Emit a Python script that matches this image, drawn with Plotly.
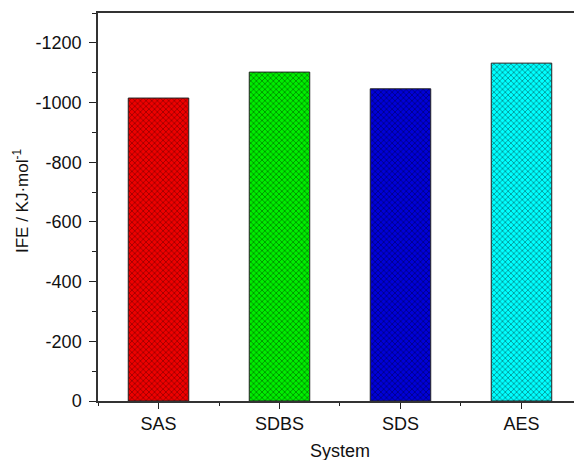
import plotly.graph_objects as go

categories = ["SAS", "SDBS", "SDS", "AES"]
ife_values = [-1015, -1102, -1046, -1132]
bar_colors = ["#EE0000", "#00EE00", "#0000D8", "#00FFFF"]
hatch_colors = ["#A00000", "#009000", "#000088", "#009A9A"]
ytick_vals = [0, -200, -400, -600, -800, -1000, -1200]
ytick_text = ["0", "-200", "-400", "-600", "-800", "-1000", "-1200"]
x_title = "System"
y_title = "IFE / KJ·mol<sup>-1</sup>"

xpos = list(range(len(categories)))

fig = go.Figure()
for i in xpos:
    fig.add_trace(go.Bar(
        x=[xpos[i]],
        y=[ife_values[i]],
        width=0.5,
        name=categories[i],
        marker=dict(
            color=bar_colors[i],
            line=dict(color="#222222", width=1),
            pattern=dict(shape="x", fgcolor=hatch_colors[i], bgcolor=bar_colors[i],
                         size=4, solidity=0.4, fillmode="overlay", fgopacity=1),
        ),
        showlegend=False,
    ))

fnt = "Arial, Liberation Sans, sans-serif"
fig.update_layout(
    width=574, height=460,
    barmode="overlay",
    margin=dict(l=98, r=0, t=13, b=59),
    paper_bgcolor="white", plot_bgcolor="white",
    font=dict(family=fnt, size=18, color="#111111"),
    xaxis=dict(
        range=[-0.5, 3.434],
        tickvals=xpos, ticktext=categories,
        ticks="outside", ticklen=6, tickwidth=1.3, tickcolor="#222",
        minor=dict(tick0=0.5, dtick=1, ticks="outside", ticklen=3, tickwidth=1.3, tickcolor="#222"),
        showline=True, linecolor="#333", linewidth=1.5, mirror=True,
        showgrid=False, zeroline=False, automargin=False,
        tickfont=dict(size=18),
    ),
    yaxis=dict(
        range=[0, -1300],
        tickvals=ytick_vals, ticktext=ytick_text,
        ticks="outside", ticklen=7, tickwidth=1.3, tickcolor="#222",
        minor=dict(dtick=100, ticks="outside", ticklen=4, tickwidth=1.3, tickcolor="#222"),
        showline=True, linecolor="#333", linewidth=1.5, mirror=False,
        showgrid=False, zeroline=False, automargin=False,
        ticklabelstandoff=4,
        tickfont=dict(size=18),
    ),
    annotations=[
        dict(text=x_title, xref="paper", yref="paper", x=(340 - 98) / 476, y=-(451 - 401) / 388,
             xanchor="center", yanchor="middle", showarrow=False, font=dict(size=18)),
        dict(text=y_title, xref="paper", yref="paper", x=(21 - 98) / 476, y=(401 - 201) / 388,
             xanchor="center", yanchor="middle", textangle=-90, showarrow=False, font=dict(size=17)),
    ],
)

fig.write_html("out.html", config={"displayModeBar": False},
               post_script="document.body.style.margin='0';document.body.style.overflow='hidden';")
